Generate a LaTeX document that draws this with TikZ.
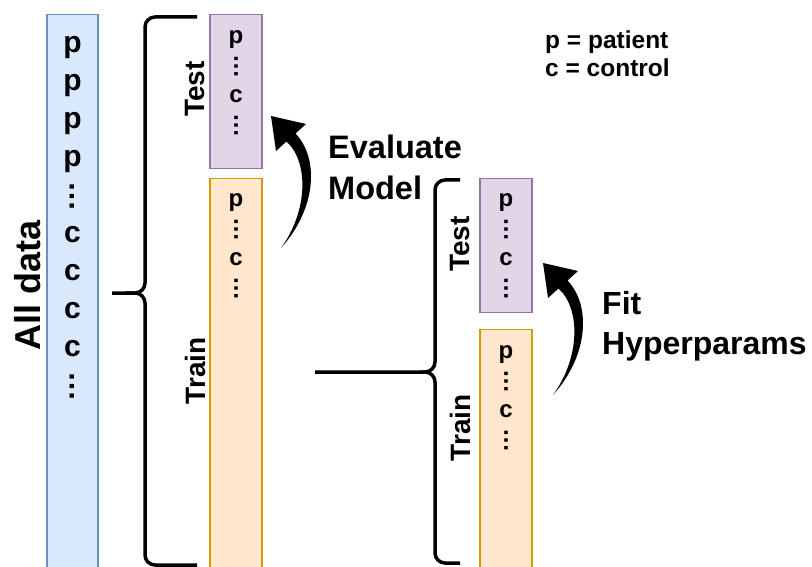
\documentclass[tikz,border=0pt]{standalone}
\usepackage{fontspec}
\setmainfont{Liberation Sans}
\usepackage{graphicx}

\definecolor{datafill}{HTML}{DAE8FC}
\definecolor{dataline}{HTML}{6C8EBF}
\definecolor{testfill}{HTML}{E1D5E7}
\definecolor{testline}{HTML}{9673A6}
\definecolor{trainfill}{HTML}{FFE6CC}
\definecolor{trainline}{HTML}{D79B00}

% a vertical ellipsis, set on the middle of a lower-case letter
\newcommand{\vdts}{\raisebox{0.19em}{\smash{\rotatebox[origin=c]{90}{…}}}}

\begin{document}
\begin{tikzpicture}[
  x=1pt, y=-1pt,
  every node/.style={inner sep=0pt},
  box/.style={draw, line width=1.2pt, minimum width=52pt, anchor=north},
  databox/.style={box, draw=dataline, fill=datafill},
  testbox/.style={box, draw=testline, fill=testfill},
  trainbox/.style={box, draw=trainline, fill=trainfill},
  items/.style={anchor=north, align=center},
  bigitems/.style={items, font=\bfseries\fontsize{30}{38}\selectfont},
  smallitems/.style={items, font=\bfseries\fontsize{24}{29.5}\selectfont},
  side/.style={rotate=90, font=\bfseries\fontsize{28}{28}\selectfont},
  note/.style={align=left, anchor=west},
  brace/.style={draw, line width=3.5pt, rounded corners=10pt},
  % the curved arrows: a tapered shaft with a wide head, tip at the origin
  bentarrow/.pic={
    \fill (0,0) -- (35,8) -- (24.5,17.5)
      .. controls (48,42) and (46,92) .. (10,132)
      .. controls (37,95) and (38,46) .. (15.5,25.5) -- (5,35) -- cycle;
  }]

  \useasboundingbox (0,0) rectangle (812,567);
  \clip (0,0) rectangle (812,567);

  % columns of data
  \node[databox, minimum width=51pt, minimum height=560pt] (alldata) at (72.5,14) {};
  \node[testbox,  minimum height=154pt] (testa)  at (236,14)  {};
  \node[trainbox, minimum height=396pt] (traina) at (236,178) {};
  \node[testbox,  minimum height=134pt] (testb)  at (506,178) {};
  \node[trainbox, minimum height=245pt] (trainb) at (506,329) {};

  % what each column holds
  \node[bigitems]   (allitems)    at (72.5,36) {p\\p\\p\\p\\\vdts\\c\\c\\c\\c\\\vdts};
  \node[smallitems] (testaitems)  at (236,30)  {p\\\vdts\\c\\\vdts};
  \node[smallitems] (trainaitems) at (236,193) {p\\\vdts\\c\\\vdts};
  \node[smallitems] (testbitems)  at (506,193) {p\\\vdts\\c\\\vdts};
  \node[smallitems] (trainbitems) at (506,345) {p\\\vdts\\c\\\vdts};

  % names of the columns
  \node[side, font=\bfseries\fontsize{36}{36}\selectfont] (alllabel) at (28,285) {All data};
  \node[side] (testalabel)  at (195,89)  {Test};
  \node[side] (trainalabel) at (195,371) {Train};
  \node[side] (testblabel)  at (460,244) {Test};
  \node[side] (trainblabel) at (460,428) {Train};

  % braces of the two splits
  \draw[brace] (197,17)  -- (145,17)  -- (145,293) -- (112,293);
  \draw[brace] (197,565) -- (145,565) -- (145,293) -- (125,293);
  \draw[brace] (460,180) -- (435,180) -- (435,372) -- (315,372);
  \draw[brace] (460,563) -- (435,563) -- (435,372) -- (420,372);

  % arrows and what they stand for
  \coordinate (evaltip) at (271,116);
  \coordinate (fittip)  at (543,263);
  \pic (evalarrow) at (evaltip) {bentarrow};
  \pic (fitarrow)  at (fittip)  {bentarrow};
  \node[note, font=\bfseries\fontsize{32.5}{41}\selectfont] (evallabel) at (328,167.5) {Evaluate\\Model};
  \node[note, font=\bfseries\fontsize{32}{40}\selectfont] (fitlabel)  at (602,326)   {Fit\\Hyperparams};

  % legend
  \node[note, font=\bfseries\fontsize{24.5}{28}\selectfont] (legend) at (545,54) {p = patient\\c = control};
\end{tikzpicture}
\end{document}
